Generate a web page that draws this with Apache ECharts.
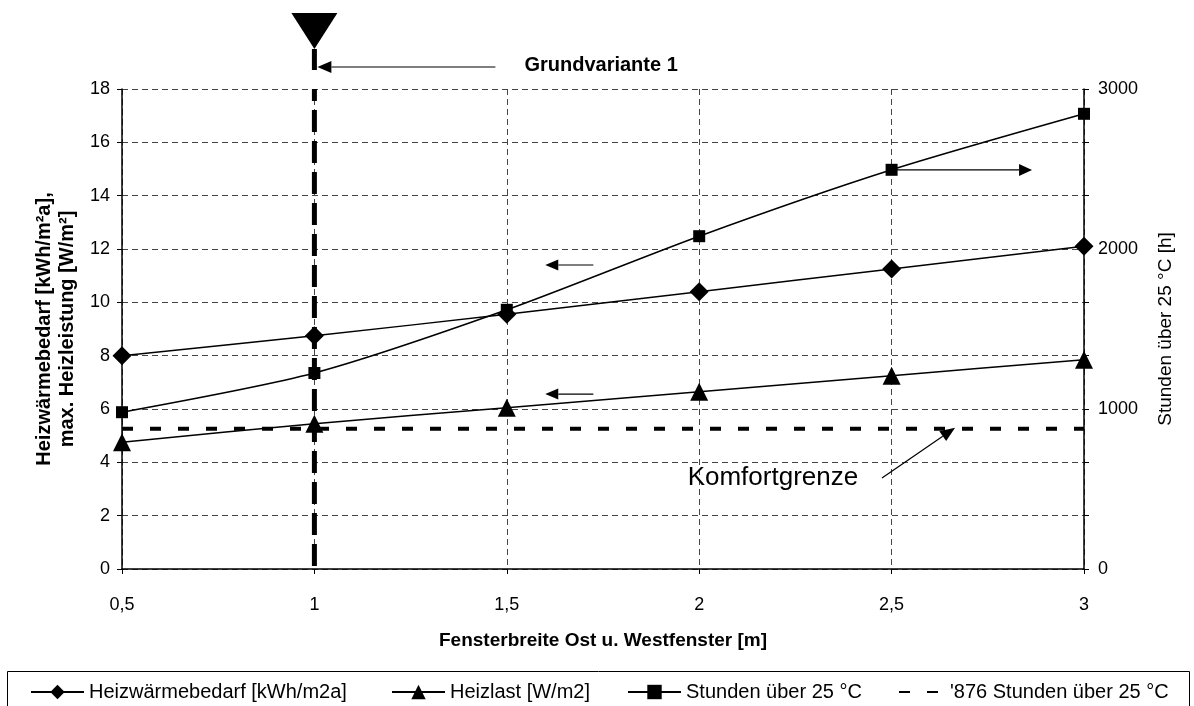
<!DOCTYPE html>
<html>
<head>
<meta charset="utf-8">
<script src="https://cdn.jsdelivr.net/npm/echarts@6/dist/echarts.min.js"></script>
<style>
  html, body { margin: 0; padding: 0; background: #fff; }
  #chart { width: 1194px; height: 706px; }
</style>
</head>
<body>
<div id="chart"></div>
<script>
// Fensterbreite Ost- und Westfenster [m]
const widths = [0.5, 1, 1.5, 2, 2.5, 3];
// Heizwärmebedarf [kWh/m²a]
const heatDemand = [8.0, 8.75, 9.55, 10.4, 11.25, 12.1];
// Heizlast [W/m²]
const heatLoad = [4.75, 5.45, 6.05, 6.65, 7.25, 7.85];
// Stunden über 25 °C [h]
const hoursOver25 = [980, 1225, 1620, 2080, 2495, 2845];
// Komfortgrenze: 876 Stunden über 25 °C
const comfortLimit = 876;
// Grundvariante
const baseWidth = 1;

const leftTicks = { min: 0, max: 18, interval: 2 };
const rightTicks = { min: 0, max: 3000, interval: 1000 / 3 };

const FONT = 'Liberation Sans, Arial, sans-serif';
const chart = echarts.init(document.getElementById('chart'));

const pairs = vals => widths.map((x, i) => [x, vals[i]]);
const fmtComma = v => String(v).replace('.', ',');

const lineBase = {
  type: 'line',
  smooth: 0.25,
  lineStyle: { color: '#000', width: 1.5 },
  itemStyle: { color: '#000' },
  emphasis: { disabled: true },
  z: 5
};

const legendBase = {
  top: 682,
  padding: 0,
  itemWidth: 53,
  itemHeight: 18,
  itemGap: 0,
  textStyle: { fontFamily: FONT, fontSize: 20, color: '#000' },
  inactiveColor: '#000'
};

chart.setOption({
  animation: false,
  backgroundColor: '#fff',
  grid: { left: 122, right: 110, top: 89, bottom: 137 },
  xAxis: {
    type: 'value',
    min: 0.5, max: 3, interval: 0.5,
    name: 'Fensterbreite Ost u. Westfenster [m]',
    nameLocation: 'middle',
    nameGap: 62,
    nameTextStyle: { fontFamily: FONT, fontSize: 19, fontWeight: 'bold', color: '#000' },
    axisLine: { lineStyle: { color: '#000', width: 1.5 } },
    axisTick: { show: true, length: 5, lineStyle: { color: '#000' } },
    axisLabel: { fontFamily: FONT, fontSize: 18, color: '#000', margin: 27, formatter: fmtComma },
    splitLine: { show: true, lineStyle: { color: '#444', width: 1, type: [6, 4] } }
  },
  yAxis: [
    {
      type: 'value',
      min: leftTicks.min, max: leftTicks.max, interval: leftTicks.interval,
      position: 'left',
      name: 'Heizwärmebedarf [kWh/m²a],\nmax. Heizleistung [W/m²]',
      nameLocation: 'middle',
      nameRotate: 90,
      nameGap: 42,
      nameTextStyle: { fontFamily: FONT, fontSize: 20, fontWeight: 'bold', color: '#000', lineHeight: 23 },
      axisLine: { show: true, lineStyle: { color: '#000', width: 1.5 } },
      axisTick: { show: true, length: 5, lineStyle: { color: '#000' } },
      axisLabel: { fontFamily: FONT, fontSize: 18, color: '#000', margin: 12 },
      splitLine: { show: true, lineStyle: { color: '#444', width: 1, type: [6, 4] } }
    },
    {
      type: 'value',
      min: rightTicks.min, max: rightTicks.max, interval: rightTicks.interval,
      position: 'right',
      name: 'Stunden über 25 °C [h]',
      nameLocation: 'middle',
      nameRotate: 90,
      nameGap: 72,
      nameTextStyle: { fontFamily: FONT, fontSize: 19, color: '#000' },
      axisLine: { show: true, lineStyle: { color: '#000', width: 1.5 } },
      axisTick: { show: true, length: 5, lineStyle: { color: '#000' } },
      axisLabel: {
        fontFamily: FONT, fontSize: 18, color: '#000', margin: 14,
        formatter: v => {
          const r = Math.round(v);
          return r % 1000 === 0 ? String(r) : '';
        }
      },
      splitLine: { show: false }
    }
  ],
  legend: [
    Object.assign({}, legendBase, { left: 30, data: ['Heizwärmebedarf [kWh/m2a]'] }),
    Object.assign({}, legendBase, { left: 391, data: ['Heizlast [W/m2]'] }),
    Object.assign({}, legendBase, { left: 627, data: ['Stunden über 25 °C'] }),
    Object.assign({}, legendBase, { left: 898, itemWidth: 46, itemStyle: { opacity: 0 },
      data: ["'876 Stunden über 25 °C"] })
  ],
  series: [
    Object.assign({}, lineBase, {
      name: 'Heizwärmebedarf [kWh/m2a]',
      yAxisIndex: 0,
      symbol: 'diamond', symbolSize: 19,
      data: pairs(heatDemand)
    }),
    Object.assign({}, lineBase, {
      name: 'Heizlast [W/m2]',
      yAxisIndex: 0,
      symbol: 'triangle', symbolSize: 18,
      data: pairs(heatLoad)
    }),
    Object.assign({}, lineBase, {
      name: 'Stunden über 25 °C',
      yAxisIndex: 1,
      symbol: 'rect', symbolSize: 12,
      data: pairs(hoursOver25)
    }),
    {
      name: "'876 Stunden über 25 °C",
      type: 'line',
      yAxisIndex: 1,
      symbol: 'none',
      lineStyle: { color: '#000', width: 4, type: [11, 17] },
      itemStyle: { color: '#000' },
      emphasis: { disabled: true },
      data: [[widths[0], comfortLimit], [widths[widths.length - 1], comfortLimit]],
      z: 4
    },
    {
      // Grundvariante marker: thick dashed vertical line at the base width
      name: 'Grundvariante',
      type: 'line',
      yAxisIndex: 0,
      symbol: 'none',
      lineStyle: { color: '#000', width: 5, type: [22, 9], dashOffset: -3 },
      emphasis: { disabled: true },
      data: [[baseWidth, leftTicks.min], [baseWidth, leftTicks.max]],
      z: 3
    }
  ]
});

// Annotations placed in data coordinates of the left (index 0) or right (index 1) axis
const px = (x, y, axis) => chart.convertToPixel({ xAxisIndex: 0, yAxisIndex: axis }, [x, y]);

function arrow(from, to, head) {
  const dx = to[0] - from[0], dy = to[1] - from[1];
  const len = Math.sqrt(dx * dx + dy * dy);
  const ux = dx / len, uy = dy / len;
  const hl = head[0], hw = head[1];
  const base = [to[0] - ux * hl, to[1] - uy * hl];
  return [
    { type: 'line', shape: { x1: from[0], y1: from[1], x2: base[0], y2: base[1] },
      style: { stroke: '#000', lineWidth: 1.2 }, z: 10 },
    { type: 'polygon', shape: { points: [to,
        [base[0] - uy * hw / 2, base[1] + ux * hw / 2],
        [base[0] + uy * hw / 2, base[1] - ux * hw / 2]] },
      style: { fill: '#000' }, z: 10 }
  ];
}

const g = [];
// Arrows pointing to the left axis
g.push(...arrow(px(1.725, 11.4, 0), px(1.6, 11.4, 0), [13, 11]));
g.push(...arrow(px(1.725, 6.56, 0), px(1.6, 6.56, 0), [13, 11]));
// Arrow pointing to the right axis
g.push(...arrow(px(2.5, 2494, 1), px(2.865, 2494, 1), [13, 12]));
// Komfortgrenze label and arrow
g.push(...arrow(px(2.475, 3.41, 0), px(2.665, 5.3, 0), [15, 12]));
const kp = px(1.97, 3.42, 0);
g.push({ type: 'text', x: kp[0], y: kp[1], z: 10,
  style: { text: 'Komfortgrenze', font: '26px ' + FONT, fill: '#000', verticalAlign: 'middle', align: 'left' } });

// Grundvariante: bar extension above the plot, triangle and label
const basePt = px(baseWidth, leftTicks.max, 0);
const tipY = basePt[1] - 40;
g.push({ type: 'line', shape: { x1: basePt[0], y1: basePt[1] - 19, x2: basePt[0], y2: tipY },
  style: { stroke: '#000', lineWidth: 5 }, z: 10 });
g.push({ type: 'polygon', z: 10, shape: { points: [
  [basePt[0] - 23, tipY - 36], [basePt[0] + 23, tipY - 36], [basePt[0], tipY]] },
  style: { fill: '#000' } });
const gy = basePt[1] - 22;
g.push(...arrow([basePt[0] + 181, gy], [basePt[0] + 3, gy], [14, 12]));
g.push({ type: 'text', x: basePt[0] + 210, y: gy - 2, z: 10,
  style: { text: 'Grundvariante 1', font: 'bold 20px ' + FONT, fill: '#000', verticalAlign: 'middle', align: 'left' } });

// Legend frame
g.push({ type: 'rect', z: 0, shape: { x: 7.5, y: 671.5, width: 1182, height: 50 },
  style: { fill: 'none', stroke: '#000', lineWidth: 1 } });

chart.setOption({ graphic: g });
</script>
</body>
</html>
